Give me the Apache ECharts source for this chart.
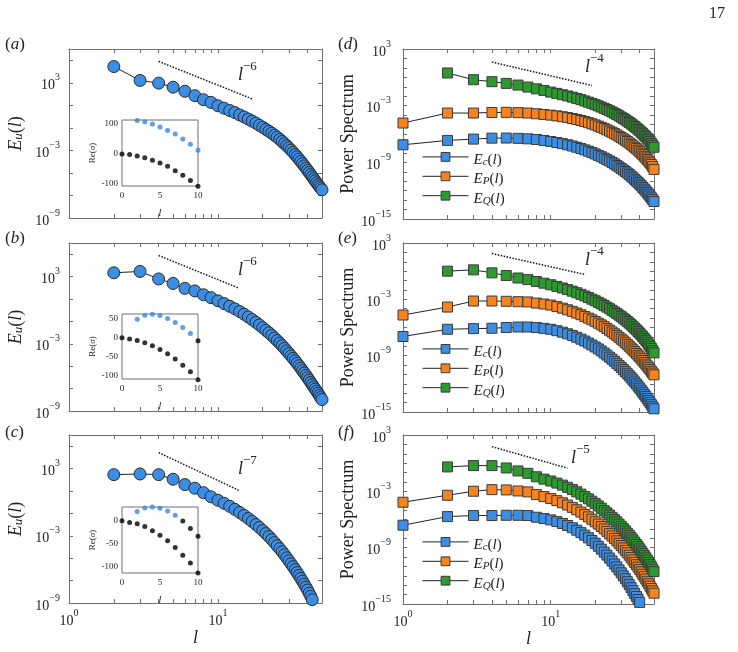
<!DOCTYPE html>
<html><head><meta charset="utf-8">
<script src="https://cdn.jsdelivr.net/npm/echarts@6/dist/echarts.min.js"></script>
<style>html,body{margin:0;padding:0;background:#fff}#c{width:738px;height:652px}</style>
</head><body><div id="c"></div>
<script>
// ---------- data (values stored as log10 of the plotted quantity) ----------
const L1_50 = [1,2,3,4,5,6,7,8,9,10,11,12,13,14,15,16,17,18,19,20,21,22,23,24,25,26,27,28,29,30,31,32,33,34,35,36,37,38,39,40,41,42,43,44,45,46,47,48,49,50];
const L2_50 = [2,3,4,5,6,7,8,9,10,11,12,13,14,15,16,17,18,19,20,21,22,23,24,25,26,27,28,29,30,31,32,33,34,35,36,37,38,39,40,41,42,43,44,45,46,47,48,49,50];
const L2_43 = [2,3,4,5,6,7,8,9,10,11,12,13,14,15,16,17,18,19,20,21,22,23,24,25,26,27,28,29,30,31,32,33,34,35,36,37,38,39,40,41,42,43];
const L1_40 = [1,2,3,4,5,6,7,8,9,10,11,12,13,14,15,16,17,18,19,20,21,22,23,24,25,26,27,28,29,30,31,32,33,34,35,36,37,38,39,40];

// (a)-(c): E_u(l)
const logEuA = [4.44,3.21,2.97,2.61,2.25,1.86,1.50,1.26,0.96,0.75,0.54,0.36,0.15,-0.03,-0.22,-0.40,-0.58,-0.77,-0.95,-1.13,-1.30,-1.47,-1.65,-1.83,-2.02,-2.21,-2.40,-2.59,-2.78,-2.97,-3.17,-3.37,-3.57,-3.77,-3.97,-4.17,-4.37,-4.57,-4.77,-4.96,-5.15,-5.34,-5.52,-5.70,-5.87,-6.04,-6.20,-6.35,-6.50];
const logEuB = [3.34,3.46,2.79,2.39,1.95,1.72,1.38,1.12,0.84,0.59,0.35,0.12,-0.12,-0.36,-0.60,-0.84,-1.08,-1.32,-1.56,-1.79,-2.02,-2.25,-2.48,-2.71,-2.94,-3.17,-3.40,-3.63,-3.86,-4.08,-4.30,-4.52,-4.74,-4.96,-5.18,-5.40,-5.61,-5.82,-6.03,-6.24,-6.45,-6.65,-6.85,-7.04,-7.23,-7.42,-7.61,-7.80,-7.98];
const logEuC = [2.46,2.52,2.46,2.05,1.57,1.25,0.85,0.48,0.17,-0.10,-0.37,-0.64,-0.91,-1.18,-1.45,-1.72,-1.99,-2.26,-2.53,-2.80,-3.07,-3.34,-3.61,-3.88,-4.15,-4.42,-4.69,-4.96,-5.23,-5.50,-5.76,-6.02,-6.28,-6.54,-6.80,-7.06,-7.32,-7.58,-7.84,-8.12,-8.40,-8.70];

// (d)-(f): spectra
const logEcD = [-7.14,-6.68,-6.54,-6.44,-6.43,-6.46,-6.51,-6.58,-6.68,-6.79,-6.90,-7.02,-7.14,-7.27,-7.40,-7.54,-7.68,-7.82,-7.96,-8.11,-8.26,-8.41,-8.56,-8.71,-8.86,-9.01,-9.17,-9.33,-9.49,-9.65,-9.81,-9.97,-10.13,-10.29,-10.46,-10.63,-10.80,-10.97,-11.14,-11.31,-11.48,-11.66,-11.84,-12.02,-12.20,-12.38,-12.57,-12.76,-12.95,-13.15];
const logEPD = [-4.84,-3.78,-3.78,-3.72,-3.71,-3.74,-3.78,-3.86,-3.93,-4.00,-4.08,-4.17,-4.26,-4.36,-4.46,-4.57,-4.68,-4.80,-4.92,-5.04,-5.17,-5.30,-5.43,-5.56,-5.69,-5.82,-5.96,-6.10,-6.24,-6.38,-6.52,-6.66,-6.80,-6.95,-7.10,-7.25,-7.40,-7.55,-7.71,-7.87,-8.03,-8.19,-8.36,-8.53,-8.70,-8.87,-9.05,-9.23,-9.45,-9.75];
const logEQD = [0.46,-0.25,-0.46,-0.64,-0.82,-1.03,-1.22,-1.39,-1.56,-1.70,-1.84,-1.97,-2.10,-2.23,-2.36,-2.50,-2.63,-2.76,-2.89,-3.02,-3.15,-3.28,-3.41,-3.54,-3.67,-3.80,-3.94,-4.08,-4.22,-4.36,-4.50,-4.64,-4.78,-4.92,-5.06,-5.21,-5.36,-5.51,-5.66,-5.81,-5.97,-6.13,-6.29,-6.45,-6.62,-6.79,-7.00,-7.20,-7.40];
const logEcE = [-6.96,-6.19,-6.12,-6.08,-6.00,-5.95,-5.95,-6.01,-6.09,-6.19,-6.34,-6.50,-6.67,-6.85,-7.04,-7.24,-7.44,-7.65,-7.86,-8.07,-8.28,-8.50,-8.72,-8.94,-9.16,-9.38,-9.60,-9.82,-10.04,-10.26,-10.48,-10.70,-10.92,-11.14,-11.36,-11.58,-11.80,-12.02,-12.24,-12.46,-12.68,-12.90,-13.12,-13.34,-13.56,-13.78,-14.00,-14.22,-14.44,-14.66];
const logEPE = [-4.67,-3.82,-3.18,-3.18,-3.21,-3.25,-3.28,-3.40,-3.50,-3.61,-3.77,-3.94,-4.11,-4.28,-4.46,-4.64,-4.82,-5.00,-5.18,-5.36,-5.54,-5.72,-5.91,-6.10,-6.29,-6.48,-6.67,-6.86,-7.05,-7.24,-7.43,-7.62,-7.81,-8.00,-8.19,-8.38,-8.57,-8.76,-8.95,-9.14,-9.33,-9.52,-9.71,-9.90,-10.09,-10.28,-10.47,-10.66,-10.85,-11.04];
const logEQE = [0.00,0.14,-0.18,-0.46,-0.73,-0.90,-1.10,-1.28,-1.45,-1.62,-1.79,-1.96,-2.13,-2.30,-2.47,-2.64,-2.81,-2.98,-3.15,-3.32,-3.49,-3.66,-3.83,-4.00,-4.17,-4.34,-4.51,-4.68,-4.85,-5.02,-5.19,-5.36,-5.53,-5.71,-5.89,-6.07,-6.25,-6.43,-6.61,-6.80,-6.99,-7.18,-7.37,-7.56,-7.78,-8.00,-8.22,-8.46,-8.70];
const logEcF = [-6.61,-5.69,-5.58,-5.58,-5.55,-5.55,-5.58,-5.76,-5.90,-6.04,-6.22,-6.42,-6.64,-6.88,-7.14,-7.40,-7.67,-7.95,-8.24,-8.53,-8.85,-9.16,-9.48,-9.79,-10.11,-10.42,-10.74,-11.05,-11.37,-11.68,-12.00,-12.31,-12.63,-12.94,-13.26,-13.57,-13.89,-14.20,-14.52,-14.83];
const logEPF = [-4.16,-3.42,-2.99,-2.82,-2.85,-2.96,-3.06,-3.35,-3.56,-3.77,-3.99,-4.22,-4.46,-4.71,-4.96,-5.21,-5.46,-5.72,-5.98,-6.24,-6.49,-6.75,-7.00,-7.26,-7.51,-7.76,-8.02,-8.27,-8.53,-8.78,-9.03,-9.29,-9.54,-9.80,-10.05,-10.30,-10.56,-10.81,-11.07,-11.32,-11.57,-11.83,-12.08,-12.34,-12.59,-12.84,-13.10,-13.35,-13.60,-13.85];
const logEQF = [-0.40,-0.26,-0.26,-0.51,-0.83,-1.08,-1.45,-1.70,-1.90,-2.12,-2.34,-2.57,-2.81,-3.05,-3.30,-3.55,-3.80,-4.05,-4.30,-4.55,-4.80,-5.05,-5.29,-5.53,-5.77,-6.01,-6.25,-6.49,-6.73,-6.97,-7.21,-7.45,-7.69,-7.93,-8.17,-8.41,-8.65,-8.89,-9.13,-9.37,-9.61,-9.85,-10.09,-10.33,-10.57,-10.81,-11.05,-11.30,-11.55];

// dotted power-law guide lines: endpoints (l, log10 value)
const guideL_A = [4, 17],   guideLog_A = [4.90, 1.57];
const guideL_B = [4, 13.9], guideLog_B = [4.88, 1.96];
const guideL_C = [4, 13.8], guideLog_C = [4.43, 1.06];
const guideL_D = [4, 19],   guideLog_D = [1.62, -0.86];
const guideL_E = [4, 17],   guideLog_E = [1.88, -0.35];
const guideL_F = [4, 13],   guideLog_F = [1.76, -0.53];
const guideExp = ['−6', '−6', '−7', '−4', '−4', '−5'];

// insets: Re(sigma) vs l
const INSET_L0 = [0,1,2,3,4,5,6,7,8,9,10];
const INSET_L2 = [2,3,4,5,6,7,8,9,10];
const insetLowerA = [0,-2,-7,-13,-21,-30,-41,-56,-71,-89,-108];
const insetUpperA = [111,107,100,90,78,66,50,32,12];
const insetLowerB = [0,-3.5,-7,-13,-21,-31,-42,-56,-72,-89,-110];
const insetUpperB = [48,59,61.5,58,50,40,27,11,-8];
const insetLowerC = [0,-4,-7,-13,-22,-32,-44,-59,-76,-93,-115];
const insetUpperC = [20,28,30,27,21,12,-1,-17,-34];

// axis ticks
const X_TICKS = [1,2,3,4,5,6,7,8,9,10,20,30,40];
const X_LABELS = [1,10];
const Y_TICKS_L = [1e-9,1e-7,1e-5,1e-3,1e-1,1e1,1e3,1e5];
const Y_LABELS_L = [1e-9,1e-3,1e3];
const Y_TICKS_R = [1e-15,1e-14,1e-13,1e-12,1e-11,1e-10,1e-9,1e-8,1e-7,1e-6,1e-5,1e-4,1e-3,1e-2,1e-1,1,1e1,1e2,1e3];
const Y_LABELS_R = [1e-15,1e-9,1e-3,1e3];

// ---------- styling ----------
const FONT = '"Liberation Serif", "DejaVu Serif", serif';
const TXT = '#222';
const FRAME = '#6f6f6f';
const C_BLUE = '#3b8ee4', C_ORANGE = '#f6831d', C_GREEN = '#2c9a2f', C_INBLUE = '#3a86de';

const powRich = {
  b: {fontFamily: FONT, fontSize: 14, fontWeight: 'normal', color: TXT, lineHeight: 20, verticalAlign: 'bottom'},
  s: {fontFamily: FONT, fontSize: 10, fontWeight: 'normal', color: TXT, lineHeight: 12, verticalAlign: 'top'}
};
function powLabel(v) {
  const e = Math.round(Math.log10(v));
  return '{b|10}{s|' + (e < 0 ? '\u2212' + (-e) : e) + '}';
}
const mathRich = (fs) => ({
  i: {fontFamily: FONT, fontStyle: 'italic', fontWeight: 'normal', fontSize: fs, color: TXT, lineHeight: fs + 6, verticalAlign: 'bottom'},
  r: {fontFamily: FONT, fontWeight: 'normal', fontSize: fs, color: TXT, lineHeight: fs + 6, verticalAlign: 'bottom'},
  sub: {fontFamily: FONT, fontStyle: 'italic', fontWeight: 'normal', fontSize: Math.round(fs * 0.7), color: TXT, lineHeight: Math.round(fs * 0.7) + 1, verticalAlign: 'bottom'},
  sup: {fontFamily: FONT, fontWeight: 'normal', fontSize: Math.round(fs * 0.72), color: TXT, lineHeight: Math.round(fs * 0.72) + 1, verticalAlign: 'top'}
});

function pts(xs, logs) {
  const out = [];
  for (let i = 0; i < Math.min(xs.length, logs.length); i++) out.push([xs[i], Math.pow(10, logs[i])]);
  return out;
}
function pairs(xs, ys) { return ys.map((y, i) => [xs[i], y]); }

const grids = [], xAxes = [], yAxes = [], series = [], legends = [], titles = [];

function addMainGrid(box, ymin, ymax, yTicks, yLabels, showX, yName, yGap, yLabelMargin) {
  const gi = grids.length;
  grids.push({left: box[0], top: box[1], width: box[2], height: box[3]});
  const xi = xAxes.length, yi = yAxes.length;
  const lineSt = {color: FRAME, width: 1};
  const xCommon = {gridIndex: gi, type: 'log', logBase: 10, min: 1, max: 50, splitLine: {show: false},
    axisLine: {show: true, onZero: false, lineStyle: lineSt},
    axisTick: {show: true, inside: true, length: 4, customValues: X_TICKS, lineStyle: lineSt}};
  xAxes.push(Object.assign({}, xCommon, {position: 'bottom',
    axisLabel: {show: showX, customValues: X_LABELS, formatter: powLabel, rich: powRich, margin: 5},
    name: showX ? '{i|l}' : '', nameLocation: 'middle', nameGap: 19, nameTextStyle: {rich: mathRich(18)}}));
  xAxes.push(Object.assign({}, xCommon, {position: 'top', axisLabel: {show: false}}));
  const yCommon = {gridIndex: gi, type: 'log', logBase: 10, min: ymin, max: ymax, splitLine: {show: false},
    axisLine: {show: true, onZero: false, lineStyle: lineSt},
    axisTick: {show: true, inside: true, length: 4, customValues: yTicks, lineStyle: lineSt}};
  yAxes.push(Object.assign({}, yCommon, {position: 'left',
    axisLabel: {show: true, customValues: yLabels, formatter: powLabel, rich: powRich, margin: yLabelMargin},
    name: yName, nameLocation: 'middle', nameGap: yGap, nameRotate: 90, nameTextStyle: {rich: mathRich(18)}}));
  yAxes.push(Object.assign({}, yCommon, {position: 'right', axisLabel: {show: false}}));
  return {xi, yi};
}

function addInset(box, ymin, ymax, yLabels, lower, upper) {
  const gi = grids.length;
  grids.push({left: box[0], top: box[1], width: box[2], height: box[3], show: true, borderColor: FRAME, borderWidth: 1, backgroundColor: 'rgba(0,0,0,0)'});
  const xi = xAxes.length, yi = yAxes.length;
  xAxes.push({gridIndex: gi, type: 'value', min: 0, max: 10, interval: 5,
    axisLine: {show: false}, axisTick: {show: false}, splitLine: {show: false},
    axisLabel: {fontFamily: FONT, fontSize: 9, color: TXT, margin: 5},
    name: '{i|l}', nameLocation: 'middle', nameGap: 16, nameTextStyle: {rich: mathRich(10)}});
  yAxes.push({gridIndex: gi, type: 'value', min: ymin, max: ymax,
    axisLine: {show: false}, axisTick: {show: false}, splitLine: {show: false},
    axisLabel: {customValues: yLabels, fontFamily: FONT, fontSize: 9, color: TXT, margin: 4},
    name: '{r|Re(}{i|σ}{r|)}', nameLocation: 'middle', nameGap: 24, nameRotate: 90, nameTextStyle: {rich: mathRich(9)}});
  series.push({type: 'scatter', xAxisIndex: xi, yAxisIndex: yi, data: pairs(INSET_L0, lower), symbolSize: 5, clip: false,
    itemStyle: {color: '#000'}, silent: true, z: 5});
  series.push({type: 'scatter', xAxisIndex: xi, yAxisIndex: yi, data: pairs(INSET_L2, upper), symbolSize: 5, clip: false,
    itemStyle: {color: (p) => (p.data[1] > 0 ? C_INBLUE : '#000')}, silent: true, z: 5});
}

function guide(ax, ls, logs) {
  series.push({type: 'line', xAxisIndex: ax.xi, yAxisIndex: ax.yi, data: pts(ls, logs), symbol: 'none',
    lineStyle: {color: '#111', width: 1.5, type: [1.5, 1.5]}, silent: true, z: 2});
}

// --- left column
const EU = '{i|E}{sub|u}{r|(}{i|l}{r|)}';
const gA = addMainGrid([69, 49, 253, 169], 1e-9, 1e6, Y_TICKS_L, Y_LABELS_L, false, EU, 44, 9);
const gB = addMainGrid([69, 243, 253, 168], 1e-9, 1e6, Y_TICKS_L, Y_LABELS_L, false, EU, 44, 9);
const gC = addMainGrid([69, 435, 253, 168], 1e-9, 1e6, Y_TICKS_L, Y_LABELS_L, true, EU, 44, 9);
[[gA, L2_50, logEuA], [gB, L2_50, logEuB], [gC, L2_43, logEuC]].forEach(([g, ls, v]) => {
  series.push({type: 'line', name: 'Eu', xAxisIndex: g.xi, yAxisIndex: g.yi, data: pts(ls, v), symbol: 'circle', symbolSize: 12,
    itemStyle: {color: C_BLUE, borderColor: '#2b2b2b', borderWidth: 1}, lineStyle: {color: '#222', width: 1}, z: 3});
});
guide(gA, guideL_A, guideLog_A);
guide(gB, guideL_B, guideLog_B);
guide(gC, guideL_C, guideLog_C);

// --- right column
const PS = '{r|Power Spectrum}';
const gD = addMainGrid([403, 49, 251, 170], 1e-15, 1e3, Y_TICKS_R, Y_LABELS_R, false, PS, 46, 12);
const gE = addMainGrid([403, 243, 251, 169], 1e-15, 1e3, Y_TICKS_R, Y_LABELS_R, false, PS, 46, 12);
const gF = addMainGrid([403, 435, 251, 169], 1e-15, 1e3, Y_TICKS_R, Y_LABELS_R, true, PS, 46, 12);
const specSets = [
  [gD, logEcD, logEPD, logEQD, L1_50, 152],
  [gE, logEcE, logEPE, logEQE, L1_50, 344],
  [gF, logEcF, logEPF, logEQF, L1_40, 537]
];
specSets.forEach(([g, ec, ep, eq, lc, legTop]) => {
  const mk = (name, ls, v, col) => ({type: 'line', name, xAxisIndex: g.xi, yAxisIndex: g.yi, data: pts(ls, v), symbol: 'rect', symbolSize: 10,
    itemStyle: {color: col, borderColor: '#3a3a3a', borderWidth: 1}, lineStyle: {color: '#222', width: 1}, z: 3});
  series.push(mk('Ec', lc, ec, C_BLUE));
  series.push(mk('EP', L1_50, ep, C_ORANGE));
  series.push(mk('EQ', L2_50, eq, C_GREEN));
  legends.push({data: ['Ec', 'EP', 'EQ'], orient: 'vertical', left: 422, top: legTop, itemWidth: 46, itemHeight: 11, itemGap: 4,
    selectedMode: false, padding: 0,
    lineStyle: {width: 1, color: '#222'},
    itemStyle: {borderWidth: 1, borderColor: '#3a3a3a'},
    formatter: (n) => ({Ec: '{i|E}{sub|c}{r|(}{i|l}{r|)}', EP: '{i|E}{sub|P}{r|(}{i|l}{r|)}', EQ: '{i|E}{sub|Q}{r|(}{i|l}{r|)}'})[n],
    textStyle: {rich: mathRich(15), padding: [0, 0, 0, 0]}});
});
guide(gD, guideL_D, guideLog_D);
guide(gE, guideL_E, guideLog_E);
guide(gF, guideL_F, guideLog_F);

// insets
addInset([122, 120, 76, 66], -107, 113, [-100, 0, 100], insetLowerA, insetUpperA);
addInset([122, 314, 76, 65], -108, 62, [-100, -50, 0, 50], insetLowerB, insetUpperB);
addInset([122, 507, 76, 66], -115, 30, [-100, -50, 0], insetLowerC, insetUpperC);

// text annotations
function ann(text, left, top, fs) {
  titles.push({text, left, top, padding: 0, textStyle: {fontWeight: 'normal', rich: mathRich(fs || 17)}});
}
ann('{r|(}{i|a}{r|)}', 5, 30); ann('{r|(}{i|b}{r|)}', 5, 224); ann('{r|(}{i|c}{r|)}', 5, 418);
ann('{r|(}{i|d}{r|)}', 338, 30); ann('{r|(}{i|e}{r|)}', 338, 224); ann('{r|(}{i|f}{r|)}', 338, 418);
ann('{r|17}', 709, 0, 16);
const guidePos = [[238, 60], [238, 255], [238, 454], [585, 52], [585, 245], [571, 443]];
guidePos.forEach((p, k) => ann('{i|l}{sup|' + guideExp[k] + '}', p[0], p[1], 18));

const chart = echarts.init(document.getElementById('c'), null, {renderer: 'canvas'});
chart.setOption({
  animation: false,
  backgroundColor: '#fff',
  title: titles,
  grid: grids,
  xAxis: xAxes,
  yAxis: yAxes,
  legend: legends,
  series: series
});
</script>
</body></html>
